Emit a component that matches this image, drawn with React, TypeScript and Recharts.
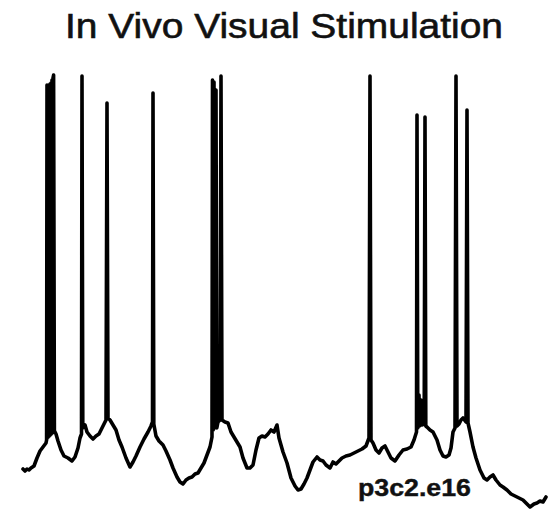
import React from 'react';
import { LineChart, Line, XAxis, YAxis } from 'recharts';

// sample times (ms, arbitrary origin) and membrane potential (arbitrary units)
const timeMs = [
  23, 25, 27, 29, 31, 34, 37, 40, 43, 46,
  46.6, 47, 47.4, 48, 48.4, 49, 49.4, 50, 50.4, 51, 51.4, 52, 52.4, 53, 53.6, 54.4, 55,
  56, 58, 61, 64, 68, 72, 75, 78, 80, 81.5,
  82, 82.8, 85, 87, 90, 93, 96, 99, 102, 104, 106, 107, 108, 110, 113, 116, 119, 122, 126, 130,
  133, 136, 140, 144, 148, 151, 152.5, 153, 153.8, 156, 159, 163, 166, 170, 173, 177, 180, 183,
  186, 189, 192, 195, 198, 201, 204, 207, 210, 212, 212.5, 213.2, 214, 214.8, 216, 216.8, 218,
  220, 221, 222, 225, 228, 231, 234, 237, 240, 243, 247, 250, 253, 256, 259, 262, 265, 268, 271,
  274, 277, 279, 283, 287, 291, 295, 298, 301, 304, 307, 310, 313, 317, 320, 323, 326, 330, 333,
  336, 339, 342, 346, 350, 354, 358, 362, 366, 369, 370, 371, 373, 376, 379, 382, 385, 388, 391,
  395, 399, 403, 407, 411, 414, 416.5, 417, 417.8, 419, 419.6, 421, 421.6, 424.2, 425, 425.8, 427,
  430, 433, 437, 440, 443, 446, 449, 451, 453, 455, 456, 457, 459, 461, 463, 466, 467, 468, 470,
  473, 476, 480, 484, 487, 490, 493, 496, 500, 503, 507, 511, 515, 519, 523, 527, 530, 534, 537,
  540, 543, 546,
];

const potential = [
  -469, -471, -469, -470, -468, -466, -458, -451, -447, -443,
  -440, -85, -438, -86, -437, -85, -436, -84, -435, -83, -434, -80, -433, -78, -75, -431, -432,
  -434, -441, -450, -456, -458, -461, -457, -448, -438, -434,
  -76, -428, -425, -432, -436, -439, -436, -434, -428, -424, -420, -103, -418, -420, -425, -430, -440, -447, -458, -467,
  -462, -456, -447, -439, -432, -426, -422, -93, -424, -436, -441, -445, -451, -460, -468, -477, -482, -484,
  -480, -478, -477, -474, -473, -468, -463, -455, -447, -437, -80, -430, -82, -428, -90, -428, -422,
  -420, -76, -420, -422, -423, -432, -437, -442, -447, -458, -468, -468, -465, -450, -438, -436, -437, -434, -430,
  -432, -425, -438, -452, -463, -478, -486, -490, -489, -484, -478, -470, -462, -457, -460, -461, -465, -468, -462,
  -464, -461, -458, -456, -455, -453, -451, -449, -446, -438, -76, -440, -443, -450, -453, -448, -446, -452, -458,
  -461, -455, -450, -449, -447, -440, -432, -115, -428, -395, -426, -400, -425, -424, -117, -426, -427,
  -430, -432, -440, -450, -456, -457, -455, -448, -432, -428, -76, -426, -424, -420, -418, -422, -110, -423, -432,
  -447, -458, -470, -478, -480, -477, -475, -480, -485, -487, -490, -494, -496, -498, -500, -504, -507, -504, -503,
  -501, -502, -497,
];

const trace = timeMs.map((t, i) => ({ t, v: potential[i] }));

const title = 'In Vivo Visual Stimulation';
const cellLabel = 'p3c2.e16';

const W = 549;
const H = 512;

export default function App() {
  return (
    <div style={{ position: 'absolute', left: 0, top: 0, width: W, height: H, background: '#fff' }}>
      <LineChart width={W} height={H} data={trace} margin={{ top: 0, right: 0, bottom: 0, left: 0 }}>
        <XAxis type="number" dataKey="t" domain={[0, W]} hide />
        <YAxis type="number" domain={[-H, 0]} hide />
        <Line
          type="linear"
          dataKey="v"
          stroke="#000"
          strokeWidth={3.6}
          strokeLinejoin="round"
          strokeLinecap="round"
          dot={false}
          activeDot={false}
          isAnimationActive={false}
        />
      </LineChart>
      <svg width={W} height={H} style={{ position: 'absolute', left: 0, top: 0, pointerEvents: 'none' }}>
        <text
          x={65}
          y={38}
          textLength={438}
          lengthAdjust="spacingAndGlyphs"
          fontFamily="'Liberation Sans', Arial, sans-serif"
          fontSize={35}
          fill="#111"
          stroke="#111"
          strokeWidth={0.6}
        >
          {title}
        </text>
        <text
          x={358}
          y={496}
          textLength={113}
          lengthAdjust="spacingAndGlyphs"
          fontFamily="'Liberation Sans', Arial, sans-serif"
          fontWeight="bold"
          fontSize={23}
          fill="#111"
          stroke="#111"
          strokeWidth={0.4}
        >
          {cellLabel}
        </text>
      </svg>
    </div>
  );
}
